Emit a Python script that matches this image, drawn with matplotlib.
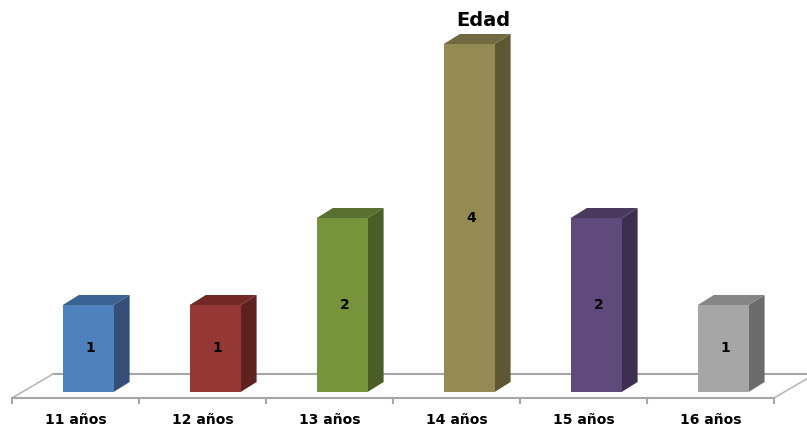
import matplotlib
matplotlib.use("Agg")
import matplotlib.pyplot as plt
from matplotlib.patches import Polygon, Rectangle

plt.rcParams["font.family"] = ["DejaVu Sans"]

# Age distribution
categories = ["11 años", "12 años", "13 años", "14 años", "15 años", "16 años"]
values = [1, 1, 2, 4, 2, 1]
title = "Edad"

front_colors = ["#4F81BD", "#953735", "#77933C", "#948A54", "#604A7B", "#A6A6A6"]
top_colors = ["#3A6393", "#732826", "#5A7030", "#716A40", "#4A395F", "#858585"]
side_colors = ["#334F78", "#5E2120", "#4A5D27", "#5D5734", "#3C2F4F", "#6C6C6C"]

fig = plt.figure(figsize=(8.07, 4.28), dpi=100)
ax = fig.add_axes([0, 0, 1, 1])
ax.set_xlim(-12 / 127, 795 / 127)
ax.set_ylim(-36 / 87, 392 / 87)
ax.axis("off")

# pseudo-3D geometry (in category / value units)
bar_left = 0.40
bar_width = 0.40
depth_x = 0.126
depth_y = 0.115
floor_front = -0.069
floor_back = 0.207
floor_dx = 0.323
n = len(categories)
line_col = "#A6A6A6"

# floor outline
ax.plot([floor_dx, 7], [floor_back, floor_back], color=line_col, lw=1.5, zorder=1)
ax.plot([0, floor_dx], [floor_front, floor_back], color="#B8B8B8", lw=1.2, zorder=1)
ax.plot([n, n + floor_dx], [floor_front, floor_back], color="#B8B8B8", lw=1.2, zorder=1)
ax.plot([0, n], [floor_front, floor_front], color=line_col, lw=1.5, zorder=1)
for i in range(n + 1):
    ax.plot([i, i], [floor_front, floor_front - 0.06], color=line_col, lw=1.5, zorder=1)

for i, (v, fc, tc, sc) in enumerate(zip(values, front_colors, top_colors, side_colors)):
    x0 = i + bar_left
    x1 = x0 + bar_width
    side = Polygon([(x1, 0), (x1 + depth_x, depth_y), (x1 + depth_x, v + depth_y), (x1, v)],
                   closed=True, facecolor=sc, edgecolor="none", zorder=3)
    top = Polygon([(x0, v), (x0 + depth_x, v + depth_y), (x1 + depth_x, v + depth_y), (x1, v)],
                  closed=True, facecolor=tc, edgecolor="none", zorder=3)
    front = Rectangle((x0, 0), bar_width, v, facecolor=fc, edgecolor="none", zorder=4)
    ax.add_patch(side)
    ax.add_patch(top)
    ax.add_patch(front)
    ax.text(x0 + bar_width / 2 + 0.02, v / 2, str(v), ha="center", va="center",
            fontsize=10, fontweight="bold", color="black", zorder=5)
    ax.text(i + 0.5, -0.32, categories[i], ha="center", va="center",
            fontsize=10, fontweight="bold", color="black", zorder=5)

ax.text(3.71, 4.27, title, ha="center", va="center", fontsize=14,
        fontweight="bold", color="black")

fig.savefig("out.png", dpi=100)
